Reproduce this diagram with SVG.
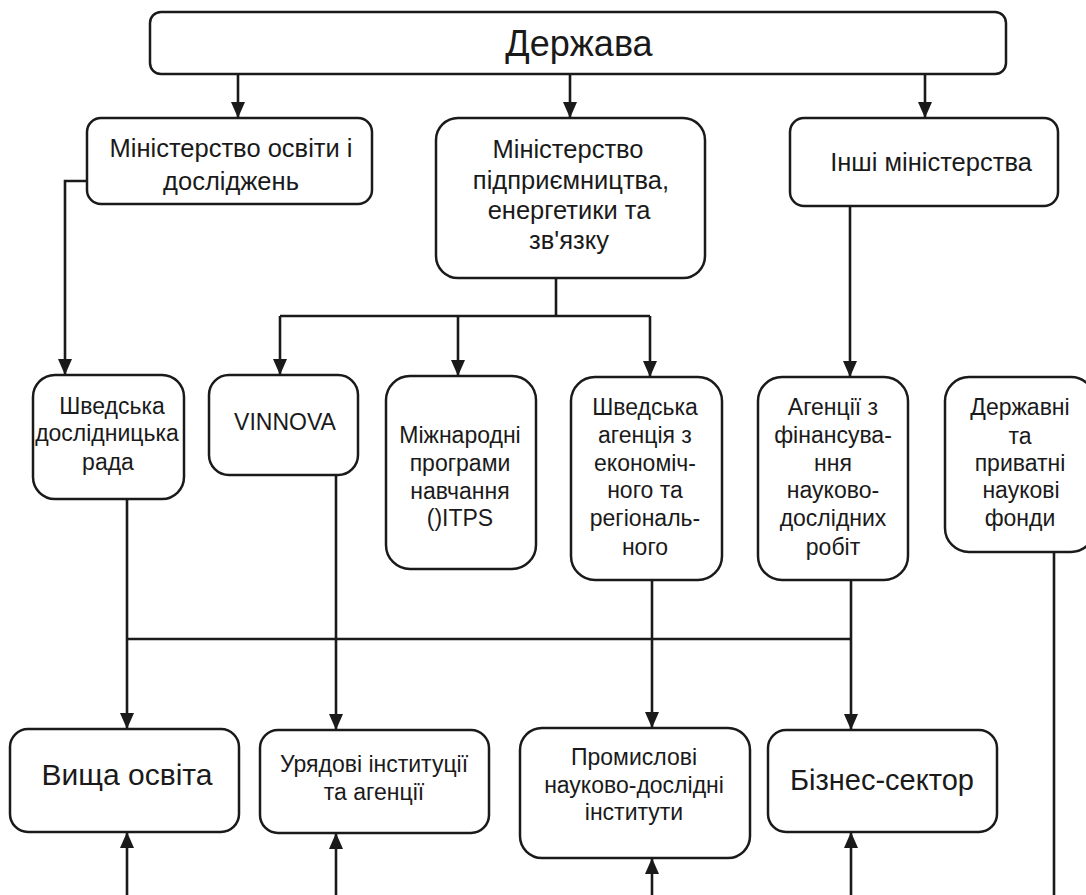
<svg xmlns="http://www.w3.org/2000/svg" width="1086" height="895" viewBox="0 0 1086 895">
<defs>
<marker id="ah" markerWidth="16" markerHeight="14" refX="16" refY="7" orient="auto" markerUnits="userSpaceOnUse" viewBox="0 0 16 14">
<path d="M0,0 L16,7 L0,14 Z" fill="#1a1a1a"/>
</marker>
<style>
.box{fill:#fff;stroke:#1a1a1a;stroke-width:2.5}
.ln{fill:none;stroke:#1a1a1a;stroke-width:2.6}
.t{font-family:"Liberation Sans",Arial,sans-serif;fill:#1a1a1a;text-anchor:middle}
.s25{font-size:25.5px}
.s23{font-size:23px}
</style>
</defs>
<rect width="1086" height="895" fill="#fff"/>

<g id="connectors">
<path class="ln" d="M238,74 V118" marker-end="url(#ah)"/>
<path class="ln" d="M570,74 V118" marker-end="url(#ah)"/>
<path class="ln" d="M925,74 V118" marker-end="url(#ah)"/>
<path class="ln" d="M87,181 H65 V375" marker-end="url(#ah)"/>
<path class="ln" d="M556,278 V316"/>
<path class="ln" d="M280,316 H650"/>
<path class="ln" d="M280,316 V375" marker-end="url(#ah)"/>
<path class="ln" d="M458,316 V376" marker-end="url(#ah)"/>
<path class="ln" d="M650,316 V377" marker-end="url(#ah)"/>
<path class="ln" d="M850,206 V377" marker-end="url(#ah)"/>
<path class="ln" d="M127,499 V729" marker-end="url(#ah)"/>
<path class="ln" d="M336,475 V730" marker-end="url(#ah)"/>
<path class="ln" d="M652,580 V728" marker-end="url(#ah)"/>
<path class="ln" d="M851,580 V730" marker-end="url(#ah)"/>
<path class="ln" d="M127,639 H851"/>
<path class="ln" d="M1054,552 V895"/>
<path class="ln" d="M127,895 V832" marker-end="url(#ah)"/>
<path class="ln" d="M336,895 V833" marker-end="url(#ah)"/>
<path class="ln" d="M652,895 V858" marker-end="url(#ah)"/>
<path class="ln" d="M851,895 V832" marker-end="url(#ah)"/>
</g>

<g id="derzhava">
<rect class="box" x="150" y="12" width="856" height="62" rx="11"/>
<text class="t" x="579" y="56" font-size="36">Держава</text>
</g>

<g id="min-osvity">
<rect class="box" x="87" y="118" width="285" height="86" rx="14"/>
<text class="t s25" x="231" y="157">Міністерство освіти і</text>
<text class="t s25" x="231" y="190">досліджень</text>
</g>

<g id="min-pidpryiemnytstva">
<rect class="box" x="436" y="118" width="269" height="160" rx="22"/>
<text class="t s25" x="568" y="158">Міністерство</text>
<text class="t s25" x="571" y="189">підприємництва,</text>
<text class="t s25" x="569" y="219">енергетики та</text>
<text class="t s25" x="569" y="249">зв'язку</text>
</g>

<g id="inshi-min">
<rect class="box" x="790" y="118" width="268" height="88" rx="14"/>
<text class="t s25" x="931" y="171">Інші міністерства</text>
</g>

<g id="shved-rada">
<rect class="box" x="33" y="375" width="151" height="124" rx="22"/>
<text class="t s23" x="112" y="414">Шведська</text>
<text class="t s23" x="107" y="441">дослідницька</text>
<text class="t s23" x="108" y="470">рада</text>
</g>

<g id="vinnova">
<rect class="box" x="209" y="375" width="149" height="100" rx="20"/>
<text class="t s23" x="285" y="430">VINNOVA</text>
</g>

<g id="mizhnarodni">
<rect class="box" x="386" y="376" width="150" height="193" rx="24"/>
<text class="t s23" x="460" y="443">Міжнародні</text>
<text class="t s23" x="460" y="471">програми</text>
<text class="t s23" x="460" y="499">навчання</text>
<text class="t s23" x="460" y="526">()ITPS</text>
</g>

<g id="shved-ahentsiia">
<rect class="box" x="571" y="377" width="151" height="203" rx="24"/>
<text class="t s23" x="645" y="415">Шведська</text>
<text class="t s23" x="645" y="443">агенція з</text>
<text class="t s23" x="645" y="471">економіч-</text>
<text class="t s23" x="645" y="498">ного та</text>
<text class="t s23" x="645" y="526">регіональ-</text>
<text class="t s23" x="645" y="555">ного</text>
</g>

<g id="ahentsii-finansuvannia">
<rect class="box" x="758" y="377" width="150" height="203" rx="24"/>
<text class="t s23" x="833" y="415">Агенції з</text>
<text class="t s23" x="833" y="443">фінансува-</text>
<text class="t s23" x="833" y="471">ння</text>
<text class="t s23" x="833" y="498">науково-</text>
<text class="t s23" x="833" y="526">дослідних</text>
<text class="t s23" x="833" y="555">робіт</text>
</g>

<g id="fondy">
<rect class="box" x="945" y="377" width="150" height="175" rx="24"/>
<text class="t s23" x="1020" y="415">Державні</text>
<text class="t s23" x="1020" y="444">та</text>
<text class="t s23" x="1020" y="471">приватні</text>
<text class="t s23" x="1021" y="498">наукові</text>
<text class="t s23" x="1020" y="526">фонди</text>
</g>

<g id="vyshcha-osvita">
<rect class="box" x="10" y="729" width="229" height="103" rx="18"/>
<text class="t" x="127" y="785" font-size="30">Вища освіта</text>
</g>

<g id="uriadovi">
<rect class="box" x="260" y="730" width="229" height="103" rx="18"/>
<text class="t s23" x="374" y="772">Урядові інституції</text>
<text class="t s23" x="374" y="800">та агенції</text>
</g>

<g id="promyslovi">
<rect class="box" x="520" y="728" width="230" height="130" rx="22"/>
<text class="t s23" x="634" y="765">Промислові</text>
<text class="t s23" x="634" y="793">науково-дослідні</text>
<text class="t s23" x="634" y="820">інститути</text>
</g>

<g id="biznes">
<rect class="box" x="768" y="730" width="229" height="102" rx="18"/>
<text class="t" x="882" y="790" font-size="29">Бізнес-сектор</text>
</g>
</svg>
